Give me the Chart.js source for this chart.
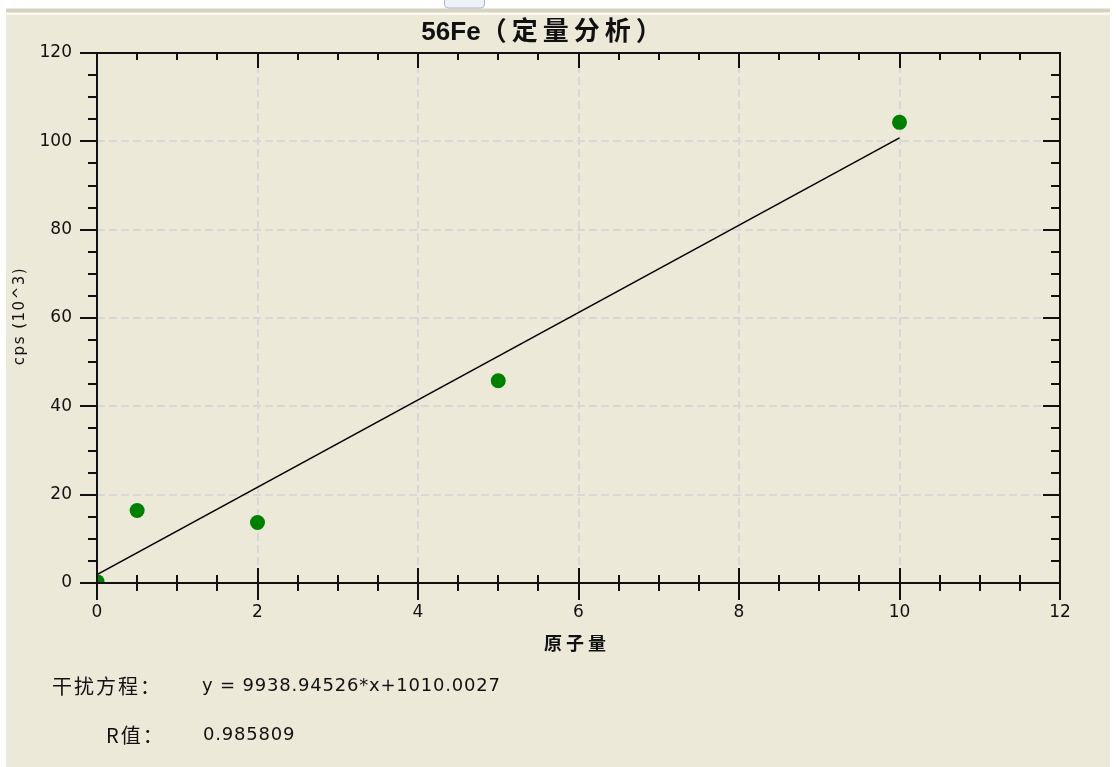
<!DOCTYPE html>
<html>
<head>
<meta charset="utf-8">
<script src="https://cdn.jsdelivr.net/npm/chart.js@4/dist/chart.umd.min.js"></script>
<style>
  html, body { margin: 0; padding: 0; background: #fff; }
  #wrap { position: relative; width: 1116px; height: 767px; }
</style>
</head>
<body>
<div id="wrap"><canvas id="cal"></canvas></div>
<script>
// calibration standards: concentration vs cps (10^3)
const stdConc = [0, 0.5, 2, 5, 10];
const stdCps = [0.3, 16.4, 13.7, 45.8, 104.3];

// fitted line end points
const fitConc = [0, 10];
const fitCps = [1.9, 100.8];

const xTicks = [0, 2, 4, 6, 8, 10, 12];
const yTicks = [0, 20, 40, 60, 80, 100, 120];
const xMinorStep = 0.5;
const yMinorStep = 5;

const titleIsotope = '56Fe';
const titleText = '（定量分析）';
const xTitle = '原子量';
const yTitle = 'cps (10^3)';
const eqLabel = '干扰方程：';
const eqText = 'y = 9938.94526*x+1010.0027';
const rLabel = 'R值：';
const rText = '0.985809';

const BG = '#ECE9D8';
const GRID = '#d9d8d6';
const INK = '#111';

// background panel + top strip
const panelPlugin = {
    id: 'panel',
    beforeDraw(chart) {
        const c = chart.ctx;
        c.save();
        c.fillStyle = '#fff';
        c.fillRect(0, 0, chart.width, chart.height);
        c.fillStyle = BG;
        c.fillRect(6, 8, chart.width - 12, chart.height - 8);
        c.fillStyle = '#d6d3c4';
        c.fillRect(6, 9, chart.width - 12, 3);
        c.fillStyle = '#faf9f4';
        c.fillRect(6, 13, chart.width - 12, 2);
        // little tab at the top
        c.fillStyle = '#eef2f8';
        c.strokeStyle = '#a9b8cf';
        c.lineWidth = 1;
        c.beginPath();
        c.roundRect(444.5, -4, 40, 12, 4);
        c.fill();
        c.stroke();
        c.restore();
    }
};

// frame, major/minor tick marks and all the free text
const framePlugin = {
    id: 'frame',
    afterDraw(chart) {
        const c = chart.ctx;
        const a = chart.chartArea;
        const xs = chart.scales.x, ys = chart.scales.y;
        c.save();
        c.strokeStyle = INK;
        c.lineWidth = 2;
        c.lineCap = 'butt';
        c.strokeRect(a.left, a.top, a.right - a.left, a.bottom - a.top);

        c.beginPath();
        for (let v = xs.min; v <= xs.max + 1e-9; v += xMinorStep) {
            const px = Math.round(xs.getPixelForValue(v));
            const major = xTicks.includes(v);
            // bottom: crosses the axis
            c.moveTo(px, a.bottom - (major ? 15 : 8));
            c.lineTo(px, a.bottom + (major ? 17 : 8));
            // top: inward
            c.moveTo(px, a.top);
            c.lineTo(px, a.top + (major ? 15 : 7));
        }
        for (let v = ys.min; v <= ys.max + 1e-9; v += yMinorStep) {
            const py = Math.round(ys.getPixelForValue(v));
            const major = yTicks.includes(v);
            // left: outward
            c.moveTo(a.left - (major ? 17 : 9), py);
            c.lineTo(a.left, py);
            // right: inward
            c.moveTo(a.right - (major ? 17 : 9), py);
            c.lineTo(a.right, py);
        }
        c.stroke();

        c.fillStyle = INK;
        c.textBaseline = 'middle';
        c.textAlign = 'left';

        // chart title: isotope tight, chinese part spaced
        const isoFont = 'bold 26px "Liberation Sans"';
        const cjkFont = 'bold 26px "Noto Sans CJK SC"';
        c.font = isoFont;
        c.letterSpacing = '0px';
        const w1 = c.measureText(titleIsotope).width;
        c.font = cjkFont;
        c.letterSpacing = '5px';
        const w2 = c.measureText(titleText).width;
        const tx = 544 - (w1 + w2) / 2;
        c.font = isoFont;
        c.letterSpacing = '0px';
        c.fillText(titleIsotope, tx, 33);
        c.font = cjkFont;
        c.letterSpacing = '5px';
        c.fillText(titleText, tx + w1, 30);

        // x title
        c.textAlign = 'center';
        c.font = 'bold 18px "Noto Sans CJK SC"';
        c.letterSpacing = '4px';
        c.fillText(xTitle, 577, 643);

        // y title
        c.save();
        c.translate(20, 316);
        c.rotate(-Math.PI / 2);
        c.font = '15px "DejaVu Sans"';
        c.letterSpacing = '1.5px';
        c.fillText(yTitle, 0, 0);
        c.restore();

        // regression info
        c.textAlign = 'left';
        c.font = '20px "Noto Sans CJK SC"';
        c.letterSpacing = '2px';
        c.fillText(eqLabel, 52, 686);
        c.fillText(rLabel, 106, 735);
        c.font = '18px "DejaVu Sans"';
        c.letterSpacing = '0.8px';
        c.fillText(eqText, 202, 686);
        c.fillText(rText, 203, 735);
        c.restore();
    }
};

const ctx = document.getElementById('cal');
ctx.width = 1116;
ctx.height = 767;

new Chart(ctx, {
    type: 'scatter',
    data: {
        datasets: [
            {
                label: 'fit',
                type: 'line',
                data: fitConc.map((x, i) => ({ x: x, y: fitCps[i] })),
                borderColor: '#000',
                borderWidth: 1.5,
                pointRadius: 0,
                fill: false,
                order: 2
            },
            {
                label: 'std',
                data: stdConc.map((x, i) => ({ x: x, y: stdCps[i] })),
                backgroundColor: '#008000',
                borderColor: '#008000',
                borderWidth: 0,
                pointRadius: 7.5,
                clip: 0,
                order: 1
            }
        ]
    },
    options: {
        responsive: false,
        animation: false,
        devicePixelRatio: 1,
        layout: { padding: { top: 53, right: 56, left: 0, bottom: 0 } },
        plugins: {
            legend: { display: false },
            tooltip: { enabled: false }
        },
        scales: {
            x: {
                type: 'linear',
                min: xTicks[0],
                max: xTicks[xTicks.length - 1],
                afterBuildTicks: (s) => { s.ticks = xTicks.map(v => ({ value: v })); },
                afterFit: (s) => { s.height = 767 - 583; },
                ticks: {
                    padding: 19,
                    color: INK,
                    font: { family: 'DejaVu Sans', size: 17 },
                    autoSkip: false,
                    maxRotation: 0
                },
                grid: {
                    drawTicks: false,
                    lineWidth: 2,
                    color: (c) => (c.tick && c.tick.value > xTicks[0] && c.tick.value < xTicks[xTicks.length - 1]) ? GRID : 'transparent'
                },
                border: { display: false, dash: [8, 4] }
            },
            y: {
                type: 'linear',
                min: yTicks[0],
                max: yTicks[yTicks.length - 1],
                afterBuildTicks: (s) => { s.ticks = yTicks.map(v => ({ value: v })); },
                afterFit: (s) => { s.width = 97; },
                ticks: {
                    padding: 25,
                    color: INK,
                    font: { family: 'DejaVu Sans', size: 17 }
                },
                grid: {
                    drawTicks: false,
                    lineWidth: 2,
                    color: (c) => (c.tick && c.tick.value > yTicks[0] && c.tick.value < yTicks[yTicks.length - 1]) ? GRID : 'transparent'
                },
                border: { display: false, dash: [8, 4] }
            }
        }
    },
    plugins: [panelPlugin, framePlugin]
});
</script>
</body>
</html>
